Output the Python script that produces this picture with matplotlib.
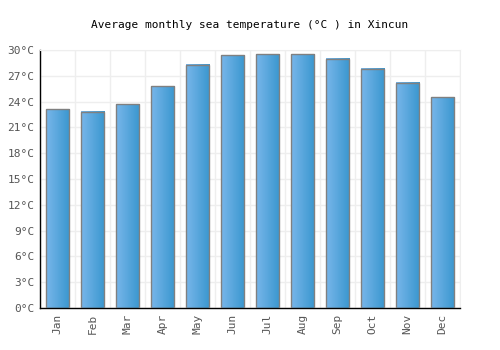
import numpy as np
import matplotlib
matplotlib.use('Agg')
import matplotlib.pyplot as plt
from matplotlib.colors import LinearSegmentedColormap

months = ['Jan', 'Feb', 'Mar', 'Apr', 'May', 'Jun', 'Jul', 'Aug', 'Sep', 'Oct', 'Nov', 'Dec']
temps = [23.1, 22.8, 23.7, 25.8, 28.3, 29.4, 29.5, 29.5, 29.0, 27.8, 26.2, 24.5]
yticks = [0, 3, 6, 9, 12, 15, 18, 21, 24, 27, 30]

plt.rcParams['font.family'] = 'DejaVu Sans Mono'

fig = plt.figure(figsize=(5, 3.5), dpi=100)
ax = fig.add_axes([0.08, 0.12, 0.84, 0.737])

cmap = LinearSegmentedColormap.from_list('bar', ['#78b6ea', '#3a97cf'])
grad = np.linspace(0, 1, 64).reshape(1, -1)
x = np.arange(len(months))
w = 0.67
for xi, t in zip(x, temps):
    ax.imshow(grad, cmap=cmap, aspect='auto', extent=(xi - w/2, xi + w/2, 0, t), zorder=2)
ax.bar(x, temps, width=w, facecolor='none', edgecolor='#808080', linewidth=1.0, zorder=3)

ax.set_xlim(-0.5, len(months) - 0.5)
ax.set_ylim(0, 30)
ax.set_xticks(x)
ax.set_xticklabels(months, rotation=90, fontsize=8, color='#555555')
ax.set_yticks(yticks)
ax.set_yticklabels([f'{v}°C' for v in yticks], fontsize=8, color='#555555')
ax.set_xticks(np.arange(-0.5, len(months)), minor=True)
ax.tick_params(axis='both', which='both', length=0, pad=4)
ax.grid(True, which='minor', axis='x', color='#eeeeee', linewidth=1, zorder=0)
ax.grid(True, which='major', axis='y', color='#eeeeee', linewidth=1, zorder=0)
ax.set_axisbelow(True)
for s in ['top', 'right']:
    ax.spines[s].set_color('#eeeeee')
for s in ['left', 'bottom']:
    ax.spines[s].set_color('black')
    ax.spines[s].set_linewidth(1)

fig.text(0.5, 0.929, 'Average monthly sea temperature (°C ) in Xincun',
         fontsize=8, ha='center', va='center')

fig.savefig('out.png', dpi=100)
